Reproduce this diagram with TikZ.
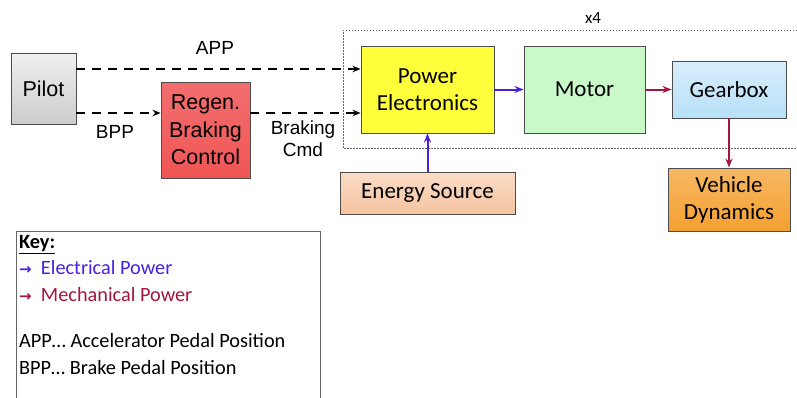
\documentclass[tikz,border=0pt]{standalone}
\usepackage{fontspec}
\setmainfont{Liberation Sans}
\newfontfamily\calibri{Carlito}
\newfontfamily\dejavu{DejaVu Sans}
\usepackage{xcolor}
\usetikzlibrary{arrows.meta}
\definecolor{elecblue}{HTML}{4A1FE0}
\definecolor{mechred}{HTML}{A3163F}
\definecolor{regenred}{HTML}{F05555}
\definecolor{peyellow}{HTML}{FFFF3C}
\definecolor{motorgreen}{HTML}{C9F8C9}
\definecolor{boxblue}{HTML}{B8E0F8}
\definecolor{energypeach}{HTML}{F6C4A0}
\definecolor{vdorange}{HTML}{F5A030}

\begin{document}
\begin{tikzpicture}[x=1pt,y=-1pt,
  block/.style={draw=black!70, line width=0.9pt, align=center, inner sep=0pt},
  arial/.style={font=\fontsize{#1}{#1}\selectfont},
  cal/.style={font=\calibri\fontsize{23}{27}\selectfont},
  sig/.style={line width=1.5pt, dash pattern=on 9pt off 7pt,
    -{Stealth[length=8pt,width=6.5pt]}},
  elec/.style={draw=elecblue, line width=2pt, -{Stealth[length=9pt,width=7pt]}},
  mech/.style={draw=mechred, line width=2pt, -{Stealth[length=9pt,width=7pt]}}]
  \useasboundingbox (0,0) rectangle (797,397);
  \coordinate (appy) at (0,69);
  \coordinate (bppy) at (0,113);
  % boxes
  \node[block, minimum width=65pt, minimum height=71pt, top color=gray!12,
    bottom color=gray!40, font=\fontsize{21.5}{26}\selectfont] (pilot) at (43.5,88.5) {Pilot};
  \node[block, minimum width=89pt, minimum height=96pt, top color=regenred!85,
    bottom color=regenred, font=\fontsize{21.5}{27.5}\selectfont] (regen) at (205.5,130) {Regen.\\Braking\\Control};
  \node[block, cal, minimum width=133pt, minimum height=87pt, fill=peyellow] (power) at (427.5,89.5) {Power\\Electronics};
  \node[block, cal, minimum width=121pt, minimum height=87pt, fill=motorgreen] (motor) at (584.5,89.5) {Motor};
  \node[block, cal, minimum width=114pt, minimum height=57pt, top color=boxblue!55,
    bottom color=boxblue] (gearbox) at (729,89.5) {Gearbox};
  \node[block, cal, minimum width=175pt, minimum height=42pt, top color=energypeach!60,
    bottom color=energypeach] (energy) at (427.5,193) {Energy Source};
  \node[block, cal, minimum width=122pt, minimum height=63pt, top color=vdorange!75,
    bottom color=vdorange] (vehicle) at (729,199.5) {Vehicle\\Dynamics};
  % x4 group
  \draw[black!60, line width=0.8pt, dash pattern=on 1.5pt off 1.5pt] (797,30) -| (343,148) -- (797,148);
  \node[font=\calibri\fontsize{17}{17}\selectfont] (times) at (593,18) {x4};
  % signals
  \draw[sig] (pilot.east |- appy) -- (power.west |- appy);
  \draw[sig] (pilot.east |- bppy) -- (regen.west |- bppy);
  \draw[sig] (regen.east |- bppy) -- (power.west |- bppy);
  \node[arial=19] (applabel) at (215,48) {APP};
  \node[arial=19] (bpplabel) at (115,132) {BPP};
  \node[align=center, font=\fontsize{19}{22}\selectfont] (cmdlabel) at (303,139) {Braking\\Cmd};
  % power flow
  \draw[elec] (power) -- (motor);
  \draw[mech] (motor) -- (gearbox);
  \draw[elec] (energy) -- (power);
  \draw[mech] (gearbox) -- (vehicle);
  % key
  \draw[black!60, line width=0.9pt] (16,398) |- (320,231) -- (320,398);
  \node[anchor=north west, align=left, inner sep=0pt,
    font=\calibri\fontsize{20.3}{26.5}\selectfont] (key) at (19,235)
    {\textbf{\underline{Key:}}\\
     \textcolor{elecblue}{{\dejavu\bfseries\fontsize{15}{15}\selectfont →}\ \ Electrical Power}\\
     \textcolor{mechred}{{\dejavu\bfseries\fontsize{15}{15}\selectfont →}\ \ Mechanical Power}\\[20pt]
     APP… Accelerator Pedal Position\\
     BPP… Brake Pedal Position};
\end{tikzpicture}
\end{document}
